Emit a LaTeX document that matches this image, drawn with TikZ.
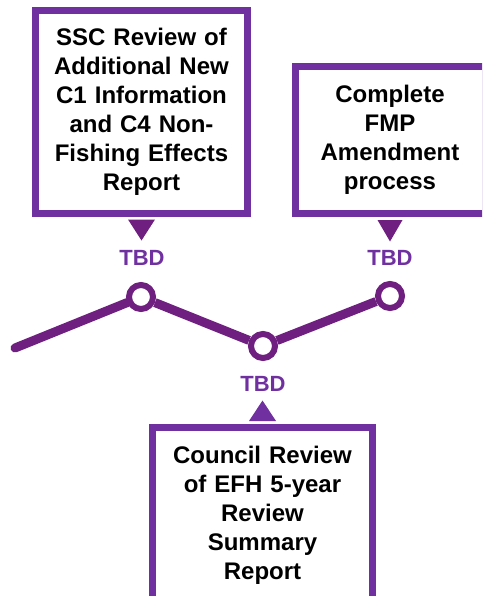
\documentclass[tikz,border=0pt]{standalone}
\usepackage{fontspec}
\setmainfont{Liberation Sans}
\usepackage{tikz}

\definecolor{boxpurple}{HTML}{7030A0}
\definecolor{linepurple}{HTML}{6E1F7F}

\tikzset{
  stepbox/.style={rectangle,draw=boxpurple,line width=7pt,fill=white,inner sep=0pt,
    align=center,font=\bfseries\fontsize{24}{29}\selectfont},
  tbd/.style={text=boxpurple,font=\bfseries\fontsize{22}{26}\selectfont,inner sep=0pt},
  mark dot/.style={circle,draw=linepurple,line width=6pt,fill=white,minimum size=24pt,inner sep=0pt},
  pointer/.style={fill=linepurple}
}

\begin{document}
\begin{tikzpicture}[x=1pt,y=-1pt]

%FRAME
\useasboundingbox (0,0) rectangle (482,596);
\clip (0,0) rectangle (482,596);
%FRAME

\node[stepbox,minimum width=212pt,minimum height=202pt,text width=200pt](b1) at (141.5,112)
  {SSC Review of\\Additional New\\C1 Information\\and C4 Non-\\Fishing Effects\\Report};
\node[stepbox,minimum width=190pt,minimum height=147pt,text width=180pt](b2) at (390,140)
  {Complete\\FMP\\Amendment\\process};
\node[stepbox,minimum width=220pt,minimum height=175pt,text width=210pt](b3) at (262.5,515)
  {Council Review\\of EFH 5-year\\Review\\Summary\\Report};

\coordinate (s0) at (15,348);
\node[mark dot](c1) at (141,297) {};
\node[mark dot](c2) at (263,346) {};
\node[mark dot](c3) at (390,296) {};

\node[tbd](t1) at (142,258) {TBD};
\node[tbd](t2) at (263,384) {TBD};
\node[tbd](t3) at (390,258) {TBD};

\draw[linepurple,line width=9pt,line cap=round] (s0) -- (c1);
\draw[linepurple,line width=9pt] (c1) -- (c2);
\draw[linepurple,line width=9pt] (c2) -- (c3);

\fill[pointer] ([xshift=-13.5pt,yshift=-3pt]b1.south) -- ([xshift=13.5pt,yshift=-3pt]b1.south) -- ([yshift=-24pt]b1.south) -- cycle;
\fill[pointer] ([xshift=-12.5pt,yshift=-3pt]b2.south) -- ([xshift=12.5pt,yshift=-3pt]b2.south) -- ([yshift=-24.5pt]b2.south) -- cycle;
\fill[boxpurple] ([xshift=-13.5pt,yshift=3pt]b3.north) -- ([xshift=13.5pt,yshift=3pt]b3.north) -- ([yshift=23.5pt]b3.north) -- cycle;

\end{tikzpicture}
\end{document}
